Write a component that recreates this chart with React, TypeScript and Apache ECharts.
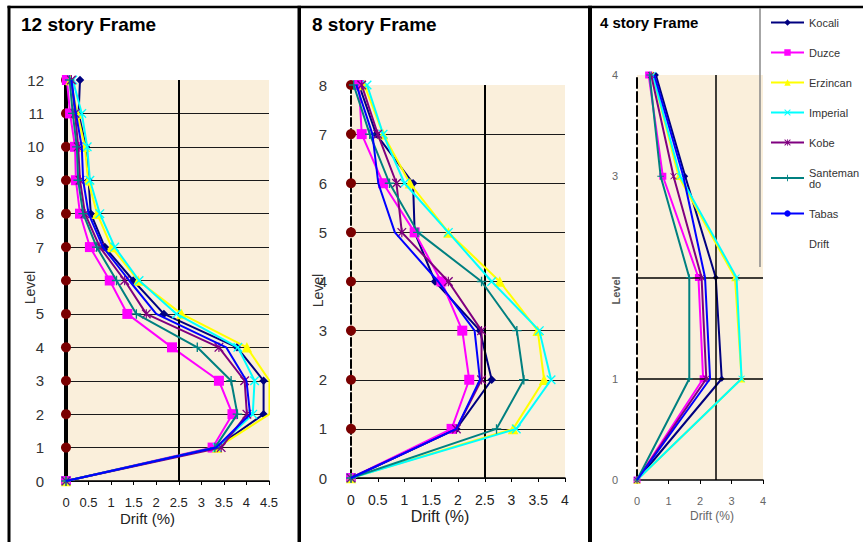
import React, { useEffect, useRef } from "react";
import * as echarts from "echarts";

// Storey levels of each frame
const levels12 = [0, 1, 2, 3, 4, 5, 6, 7, 8, 9, 10, 11, 12];
const levels8 = [0, 1, 2, 3, 4, 5, 6, 7, 8];
const levels4 = [0, 1, 2, 3, 4];

// Inter-storey drift (%) per level, 12 story frame
const kocali12 = [0, 3.33, 4.38, 4.38, 3.79, 2.17, 1.49, 0.86, 0.55, 0.5, 0.44, 0.28, 0.31];
const duzce12 = [0, 3.25, 3.69, 3.39, 2.35, 1.36, 0.97, 0.53, 0.31, 0.22, 0.2, 0.09, 0.02];
const erzincan12 = [0, 3.35, 4.51, 4.51, 4.01, 2.56, 1.6, 1.01, 0.69, 0.49, 0.42, 0.25, 0.1];
const imperial12 = [0, 3.35, 4.14, 4.18, 3.81, 2.45, 1.62, 1.08, 0.75, 0.53, 0.47, 0.35, 0.15];
const kobe12 = [0, 3.44, 4.01, 3.96, 3.39, 1.78, 1.3, 0.75, 0.42, 0.31, 0.27, 0.2, 0.12];
const santeman12 = [0, 3.3, 3.8, 3.66, 2.91, 1.56, 1.12, 0.68, 0.38, 0.27, 0.24, 0.15, 0.08];
const tabas12 = [0, 3.33, 4.08, 4.0, 3.55, 2.0, 1.4, 0.82, 0.5, 0.38, 0.35, 0.22, 0.12];

// 8 story frame
const kocali8 = [0, 1.97, 2.63, 2.41, 1.57, 1.19, 1.16, 0.47, 0.15];
const duzce8 = [0, 1.88, 2.21, 2.08, 1.69, 1.19, 0.6, 0.2, 0.15];
const erzincan8 = [0, 3.03, 3.61, 3.49, 2.78, 1.82, 1.1, 0.6, 0.25];
const imperial8 = [0, 3.09, 3.74, 3.52, 2.63, 1.82, 1.0, 0.6, 0.3];
const kobe8 = [0, 1.97, 2.44, 2.44, 1.82, 0.95, 0.85, 0.5, 0.2];
const santeman8 = [0, 2.72, 3.23, 3.1, 2.44, 1.25, 0.72, 0.35, 0.05];
const tabas8 = [0, 1.97, 2.41, 2.31, 1.63, 0.82, 0.51, 0.4, 0.1];

// 4 story frame
const kocali4 = [0, 2.69, 2.5, 1.53, 0.6];
const duzce4 = [0, 2.1, 1.95, 0.82, 0.37];
const erzincan4 = [0, 3.32, 3.11, 1.32, 0.5];
const imperial4 = [0, 3.32, 3.16, 1.37, 0.5];
const kobe4 = [0, 2.2, 2.05, 1.16, 0.45];
const santeman4 = [0, 1.66, 1.66, 0.75, 0.4];
const tabas4 = [0, 2.32, 2.16, 1.47, 0.55];

// Drift limit line and the extra gridlines of the 4 story frame
const driftLimit = 2.5;
const gridLevels4 = [1, 2];

const FONT = "'Liberation Sans', Arial, sans-serif";

const X_PATH = "path://M0,1L1,0L5,4L9,0L10,1L6,5L10,9L9,10L5,6L1,10L0,9L4,5Z";
const STAR_PATH =
  "path://M0,1L1,0L5,4L9,0L10,1L6,5L10,9L9,10L5,6L1,10L0,9L4,5Z M4.4,0L5.6,0L5.6,10L4.4,10Z";
const PLUS_PATH =
  "path://M4.3,0L5.7,0L5.7,4.3L10,4.3L10,5.7L5.7,5.7L5.7,10L4.3,10L4.3,5.7L0,5.7L0,4.3L4.3,4.3Z";

const NAMES = ["Kocali", "Duzce", "Erzincan", "Imperial", "Kobe", "Santeman\ndo", "Tabas"];
const COLORS = ["#000080", "#FF00FF", "#FFFF00", "#00FFFF", "#800080", "#008080", "#0000FF"];
const SYMBOLS = ["diamond", "rect", "triangle", X_PATH, STAR_PATH, PLUS_PATH, "none"];
const SIZE_SCALE = [0.85, 1, 1.05, 0.95, 0.95, 0.95, 1];

const panels = [
  {
    levels: levels12,
    values: [kocali12, duzce12, erzincan12, imperial12, kobe12, santeman12, tabas12],
    markerSize: 10,
    driftDots: true,
  },
  {
    levels: levels8,
    values: [kocali8, duzce8, erzincan8, imperial8, kobe8, santeman8, tabas8],
    markerSize: 10,
    driftDots: true,
  },
  {
    levels: levels4,
    values: [kocali4, duzce4, erzincan4, imperial4, kobe4, santeman4, tabas4],
    markerSize: 7,
    driftDots: false,
  },
];

function buildOption(): echarts.EChartsOption {
  const series: any[] = [];

  panels.forEach((p, pi) => {
    if (p.driftDots) {
      series.push({
        type: "line",
        name: "Drift",
        xAxisIndex: pi,
        yAxisIndex: pi,
        data: p.levels.map((l) => [0, l]),
        symbol: "circle",
        symbolSize: 10,
        itemStyle: { color: "#7a0000" },
        lineStyle: { width: 0, color: "#7a0000" },
        z: 2,
      });
    }
    // reference lines: drift limit and extra level lines
    const markData: any[] = [{ xAxis: driftLimit }];
    if (pi === 2) gridLevels4.forEach((l) => markData.push({ yAxis: l }));
    series.push({
      type: "line",
      name: "limit" + pi,
      xAxisIndex: pi,
      yAxisIndex: pi,
      data: [[driftLimit, 0]],
      symbol: "none",
      lineStyle: { width: 0 },
      silent: true,
      z: 1,
      markLine: {
        silent: true,
        symbol: "none",
        label: { show: false },
        lineStyle: { color: "#000", width: pi === 2 ? 1.5 : 2, type: "solid" },
        data: markData,
      },
    });
    p.values.forEach((vals, si) => {
      series.push({
        type: "line",
        name: NAMES[si],
        xAxisIndex: pi,
        yAxisIndex: pi,
        data: vals.map((v, i) => [v, p.levels[i]]),
        symbol: SYMBOLS[si],
        symbolSize: p.markerSize * SIZE_SCALE[si],
        itemStyle: { color: COLORS[si] },
        lineStyle: { color: COLORS[si], width: 2 },
        z: 3 + si,
      });
    });
  });

  const grids = [
    { left: 66, top: 80, width: 203, height: 401 },
    { left: 351, top: 85, width: 214, height: 393 },
    { left: 637, top: 75, width: 126, height: 405 },
  ].map((g) => ({
    ...g,
    show: true,
    backgroundColor: "#FAEFDB",
    borderWidth: 0,
    containLabel: false,
    outerBoundsMode: "none",
  }));

  const xMax = [4.5, 4, 4];
  const xInterval = [0.5, 0.5, 1];
  const xLabelSize = [13, 14, 11];
  const xLabelColor = ["#222", "#222", "#666"];
  const xNamePad = [
    [0, 40, 0, 0],
    [0, 36, 0, 0],
    [0, 0, 0, 24],
  ];
  const xNameSize = [15, 16, 12];

  const xAxis = panels.map((_, i) => ({
    type: "value",
    gridIndex: i,
    min: 0,
    max: xMax[i],
    interval: xInterval[i],
    axisLine: { show: true, onZero: false, lineStyle: { color: "#000", width: 1.5 } },
    axisTick: { show: true, inside: false, length: 4, lineStyle: { color: "#000", width: 1 } },
    axisLabel: {
      margin: 15,
      fontSize: xLabelSize[i],
      color: xLabelColor[i],
      fontFamily: FONT,
      hideOverlap: false,
    },
    splitLine: { show: false },
    name: "Drift (%)",
    nameLocation: "middle",
    nameGap: 30,
    nameMoveOverlap: false,
    nameTextStyle: {
      fontSize: xNameSize[i],
      color: i === 2 ? "#666" : "#222",
      fontFamily: FONT,
      padding: xNamePad[i],
    },
  }));

  const yLabelSize = [15, 15, 11];
  const yLabelMargin = [22, 24, 19];
  const yNameGap = [29, 26, 16];
  const yNameSize = [14, 14, 11];
  const yNamePad = [
    [0, 14, 0, 0],
    [0, 18, 0, 0],
    [0, 26, 0, 0],
  ];
  const hiddenLabel = [6, -1, 2];

  const yAxis = panels.map((p, i) => ({
    type: "value",
    gridIndex: i,
    min: 0,
    max: p.levels[p.levels.length - 1],
    interval: 1,
    axisLine: {
      show: true,
      onZero: false,
      lineStyle: {
        color: "#000",
        width: i === 0 ? 4 : 2,
        type: i === 0 ? "solid" : i === 1 ? [8, 3] : [10, 4],
      },
    },
    axisTick: { show: false },
    axisLabel: {
      margin: yLabelMargin[i],
      fontSize: yLabelSize[i],
      color: i === 2 ? "#666" : "#333",
      fontFamily: FONT,
      formatter: (v: number) => (v === hiddenLabel[i] ? "" : String(v)),
    },
    splitLine: {
      show: i < 2,
      showMaxLine: false,
      lineStyle: { color: "#1a1a1a", width: 1 },
    },
    name: "Level",
    nameLocation: "middle",
    nameGap: yNameGap[i],
    nameRotate: 90,
    nameMoveOverlap: false,
    nameTextStyle: {
      fontSize: yNameSize[i],
      color: i === 2 ? "#555" : "#333",
      fontWeight: i === 2 ? "bold" : "normal",
      fontFamily: FONT,
      padding: yNamePad[i],
    },
  }));

  return {
    animation: false,
    backgroundColor: "#fff",
    title: [
      { text: "12 story Frame", left: 21, top: 15 },
      { text: "8 story Frame", left: 312, top: 15 },
      { text: "4 story Frame", left: 600, top: 15 },
    ].map((t, i) => ({
      ...t,
      padding: 0,
      textStyle: {
        fontSize: i === 2 ? 15 : 19,
        fontWeight: "bold",
        color: "#000",
        fontFamily: FONT,
      },
    })),
    legend: {
      orient: "vertical",
      left: 765,
      top: 12,
      itemWidth: 33,
      itemHeight: 8,
      itemGap: 19,
      textStyle: { fontSize: 11, color: "#333", fontFamily: FONT },
      data: [
        ...NAMES,
        { name: "Drift", itemStyle: { opacity: 0 }, lineStyle: { opacity: 0 } } as any,
      ],
    },
    grid: grids as any,
    xAxis: xAxis as any,
    yAxis: yAxis as any,
    series,
    graphic: [
      { type: "rect", shape: { x: 7.5, y: 5.7, width: 855.5, height: 2.6 }, style: { fill: "#000" } },
      { type: "rect", shape: { x: 7.5, y: 5.7, width: 3, height: 540 }, style: { fill: "#000" } },
      { type: "rect", shape: { x: 297.5, y: 5.7, width: 3.5, height: 540 }, style: { fill: "#000" } },
      { type: "rect", shape: { x: 588, y: 5.7, width: 4, height: 540 }, style: { fill: "#000" } },
      {
        type: "line",
        shape: { x1: 760, y1: 8, x2: 760, y2: 267 },
        style: { stroke: "#888", lineWidth: 1.5 },
      },
    ],
  };
}

export default function App() {
  const ref = useRef<HTMLDivElement>(null);

  useEffect(() => {
    document.body.style.margin = "0";
    if (!ref.current) return;
    const chart = echarts.init(ref.current, undefined, { renderer: "svg" });
    chart.setOption(buildOption());
    return () => chart.dispose();
  }, []);

  return <div ref={ref} style={{ width: 863, height: 542 }} />;
}
